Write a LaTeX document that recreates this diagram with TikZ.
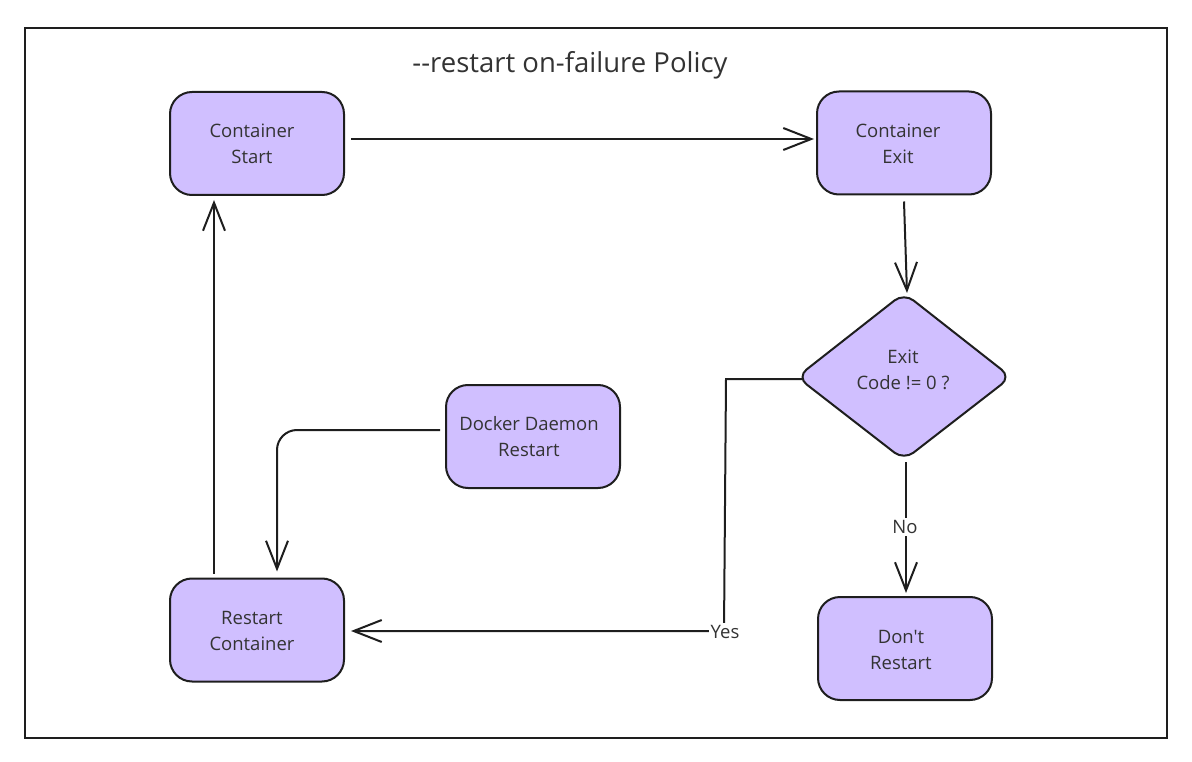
\documentclass[tikz,border=0pt]{standalone}
\usepackage{fontspec}
\setmainfont{Open Sans}[Ligatures=TeXOff]
\usetikzlibrary{arrows.meta,calc}
\definecolor{boxfill}{HTML}{D0BFFF}
\definecolor{ink}{HTML}{1E1E1E}
\definecolor{txt}{HTML}{333333}
\tikzset{
  box/.style={draw=ink,fill=boxfill,line width=2pt,rounded corners=22pt,minimum width=174pt,minimum height=103pt},
  boxtxt/.style={align=center,text=txt,font=\fontsize{18.5}{26}\selectfont},
  arr/.style={draw=ink,line width=2pt,-{Straight Barb[length=28pt,width=22pt,line width=2pt]}},
  lbl/.style={fill=white,text=txt,font=\fontsize{18.5}{20}\selectfont,inner sep=2pt}
}
\begin{document}
\begin{tikzpicture}[x=1pt,y=-1pt]
\useasboundingbox (0,0) rectangle (1192,762);
\draw[ink,line width=1.6pt] (25,28) rectangle (1167,738);
\node[text=txt,font=\fontsize{27.5}{30}\selectfont] (title) at (570,65) {-{}-restart on-failure Policy};
\node[box] (cs) at (257,143.5) {};
\node[boxtxt] (cst) at ($(cs)+(-5,0)$) {Container\\Start};
\node[box] (ce) at (904,143) {};
\node[boxtxt] (cet) at ($(ce)+(-6,1)$) {Container\\Exit};
\node[box] (dd) at (533,436.5) {};
\node[boxtxt] (ddt) at ($(dd)+(-4,0)$) {Docker Daemon\\Restart};
\node[box] (rc) at (257,630) {};
\node[boxtxt] (rct) at ($(rc)+(-5,1)$) {Restart\\Container};
\node[box] (dr) at (905,648.5) {};
\node[boxtxt] (drt) at ($(dr)+(-4,1)$) {Don't\\Restart};
\draw[ink,fill=boxfill,line width=2pt,rounded corners=12pt] (904,293) -- (1011,377) -- (904,460) -- (797,377) -- cycle;
\node[boxtxt] (dia) at (903,370) {Exit\\Code != 0 ?};
\coordinate (dW) at (803,379);
\coordinate (dN) at (907,297);
\coordinate (dS) at (906,456);
% connectors
\draw[arr] ($(cs.east)+(6,-4.5)$) -- ($(ce.west)+(-2,-4)$);
\draw[arr] ($(ce.south)+(0,6)$) -- ($(dN)+(0,-4)$);
\draw[arr] ($(dS)+(0,6)$) -- ($(dr.north)+(1,-3)$);
\node[lbl] (no) at (905,527) {No};
\coordinate (y1) at (726,379);
\coordinate (y2) at (724,631);
\draw[arr] (dW) -- (y1) -- (y2) -- ($(rc.east)+(6,1)$);
\node[lbl] (yes) at (725,632) {Yes};
\coordinate (k1) at (277,430);
\draw[arr,rounded corners=20pt] ($(dd.west)+(-5,-6.5)$) -- (k1) -- ($(rc.north)+(20,-6)$);
\draw[arr] ($(rc.north)+(-43,-4)$) -- ($(cs.south)+(-43,4)$);
\end{tikzpicture}
\end{document}
